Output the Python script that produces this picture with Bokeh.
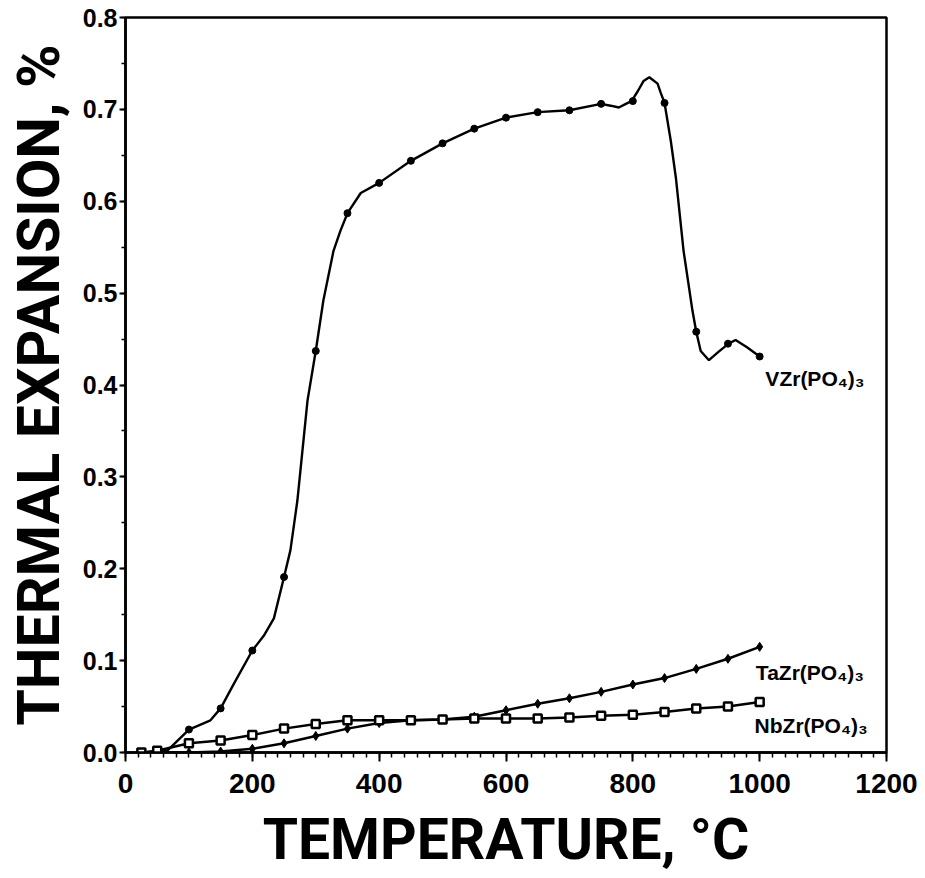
from bokeh.plotting import figure
from bokeh.models import FixedTicker, PrintfTickFormatter, Label
from bokeh.embed import file_html
from bokeh.resources import INLINE

# ---- data ----
temps = [25, 50, 100, 150, 200, 250, 300, 350, 400, 450, 500, 550, 600, 650,
         700, 750, 800, 850, 900, 950, 1000]

vzr_marks = [0.0, 0.002, 0.025, 0.048, 0.111, 0.191, 0.437, 0.587, 0.620, 0.644,
             0.663, 0.679, 0.691, 0.697, 0.699, 0.706, 0.709, 0.707, 0.458, 0.445, 0.431]
tazr_marks = [0.0, 0.0, 0.0, 0.001, 0.004, 0.010, 0.018, 0.026, 0.032, 0.035,
              0.036, 0.039, 0.046, 0.053, 0.059, 0.066, 0.074, 0.081, 0.091, 0.102, 0.115]
nbzr_marks = [0.0, 0.002, 0.010, 0.013, 0.019, 0.026, 0.031, 0.035, 0.035, 0.035,
              0.036, 0.037, 0.037, 0.037, 0.038, 0.040, 0.041, 0.044, 0.048, 0.050, 0.055]

# VZr(PO4)3 smooth curve (includes overshoots between markers)
vzr_curve_t = [25, 50, 66, 100, 134, 150, 171, 200, 218, 234, 250, 260, 271, 287, 300,
               312, 328, 339, 350, 371, 400, 450, 500, 550, 600, 650, 700, 750, 765,
               778, 789, 798, 808, 817, 826, 839, 844, 850, 860, 868, 880, 894, 900,
               907, 920, 935, 951, 962, 980, 1000]
vzr_curve_v = [0.0, 0.001, 0.002, 0.025, 0.035, 0.048, 0.075, 0.111, 0.127, 0.146, 0.191,
               0.220, 0.274, 0.383, 0.437, 0.492, 0.546, 0.568, 0.587, 0.609, 0.620,
               0.644, 0.663, 0.679, 0.691, 0.697, 0.699, 0.706, 0.704, 0.702, 0.706,
               0.709, 0.720, 0.731, 0.735, 0.728, 0.718, 0.707, 0.665, 0.625, 0.546,
               0.481, 0.458, 0.437, 0.427, 0.436, 0.445, 0.449, 0.441, 0.431]

series_names = ["VZr(PO\u2084)\u2083", "TaZr(PO\u2084)\u2083", "NbZr(PO\u2084)\u2083"]

x_ticks = [0, 200, 400, 600, 800, 1000, 1200]
y_ticks = [0.0, 0.1, 0.2, 0.3, 0.4, 0.5, 0.6, 0.7, 0.8]

p = figure(width=925, height=878, x_range=(0, 1200), y_range=(0, 0.8),
           output_backend="svg", toolbar_location=None,
           min_border_left=125, min_border_right=39,
           min_border_top=17, min_border_bottom=126)

p.grid.visible = False
p.background_fill_color = "white"
p.outline_line_color = "black"
p.outline_line_width = 2.5

p.xaxis.ticker = FixedTicker(ticks=x_ticks, minor_ticks=list(range(0, 1201, 20)))
p.yaxis.ticker = FixedTicker(ticks=y_ticks, minor_ticks=[i * 0.05 for i in range(17)])
p.yaxis.formatter = PrintfTickFormatter(format="%.1f")

for ax in (p.xaxis[0], p.yaxis[0]):
    ax.axis_line_width = 2.5
    ax.axis_line_color = "black"
    ax.major_tick_line_width = 2
    ax.minor_tick_line_width = 1.5
    ax.major_tick_in = 0
    ax.minor_tick_in = 0
    ax.major_label_text_font = "Liberation Sans"
    ax.major_label_text_font_style = "bold"
    ax.major_label_text_color = "black"
    ax.axis_label_text_font = "Roboto"
    ax.axis_label_text_font_style = "bold"
    ax.axis_label_text_color = "black"

p.xaxis.major_tick_out = 9
p.xaxis.minor_tick_out = 5
p.xaxis.major_label_standoff = 12
p.xaxis.major_label_text_font_size = "28px"
p.xaxis.axis_label = "TEMPERATURE, \u00b0C"
p.xaxis.axis_label_text_font_size = "57px"
p.xaxis.axis_label_standoff = 10

p.yaxis.major_tick_out = 6
p.yaxis.minor_tick_out = 4
p.yaxis.major_label_standoff = 2
p.yaxis.major_label_text_font_size = "25px"
p.yaxis.axis_label = "THERMAL EXPANSION, %"
p.yaxis.axis_label_text_font_size = "59px"
p.yaxis.axis_label_standoff = 7

# VZr(PO4)3
p.line(vzr_curve_t, vzr_curve_v, line_color="black", line_width=2.4)
p.scatter(temps, vzr_marks, marker="circle", size=7, fill_color="black", line_color="black")

# TaZr(PO4)3
p.line(temps, tazr_marks, line_color="black", line_width=2.5)
p.scatter(temps, tazr_marks, marker="diamond", size=9, fill_color="black", line_color="black")

# NbZr(PO4)3
p.line(temps, nbzr_marks, line_color="black", line_width=2.5)
p.scatter(temps, nbzr_marks, marker="square", size=8, fill_color="white",
          line_color="black", line_width=2.5)

label_pos = [(1009, 0.407), (994, 0.087), (992, 0.029)]
for (lx, ly), name in zip(label_pos, series_names):
    p.add_layout(Label(x=lx, y=ly, text=name, text_baseline="middle", text_align="left",
                       text_font="Liberation Sans", text_font_style="bold",
                       text_font_size="21px", text_color="black"))

open("out.html", "w").write(file_html(p, INLINE))
